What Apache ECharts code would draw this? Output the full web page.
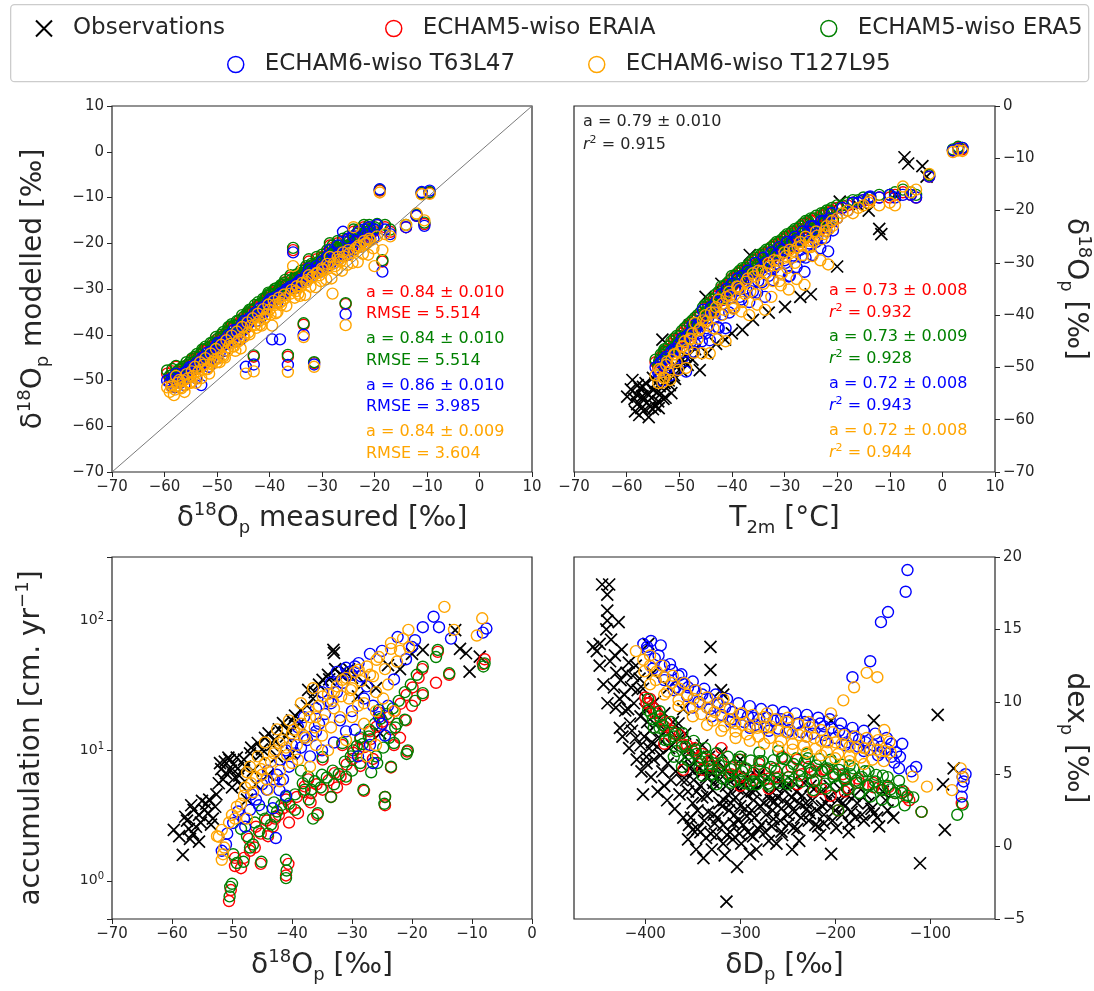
<!DOCTYPE html>
<html>
<head>
<meta charset="utf-8">
<script src="https://cdn.jsdelivr.net/npm/echarts/dist/echarts.min.js"></script>
<style>
html,body{margin:0;padding:0;background:#fff;}
#main{width:1094px;height:991px;}
</style>
</head>
<body>
<div id="main"></div>
<script>
// 4-panel isotope comparison: obs vs ECHAM5/6-wiso runs
var seriesNames = ['Observations', 'ECHAM5-wiso ERAIA', 'ECHAM5-wiso ERA5', 'ECHAM6-wiso T63L47', 'ECHAM6-wiso T127L95'];
var seriesColors = ['#000000', '#ff0000', '#008000', '#0000ff', '#ffa500'];

// panel 1 : measured d18O (shared x) vs modelled d18O per run
var p1Measured = [-59.5,-59.0,-58.5,-58.0,-57.5,-57.0,-56.5,-56.0,-55.5,-55.0,-54.5,-54.0,-53.5,-53.0,-52.0,-51.0,-50.5,-50.0,-49.0,-48.5,-48.0,-47.0,-46.5,-46.0,-45.0,-44.5,-44.0,-43.0,-42.5,-42.0,-41.0,-40.5,-40.0,-39.5,-39.0,-38.0,-37.5,-37.0,-36.5,-35.5,-35.0,-34.0,-33.5,-33.0,-32.0,-31.5,-31.0,-30.0,-29.0,-28.0,-27.5,-27.0,-26.0,-25.5,-25.0,-24.0,-23.0,-22.0,-21.0,-20.0,-19.5,-19.0,-18.5,-18.0,-17.0,-14.0,-12.0,-11.0,-10.5,-9.5,-57.8,-56.2,-54.8,-52.5,-51.5,-49.5,-47.5,-45.5,-43.5,-41.5,-38.5,-36.0,-34.5,-32.5,-30.5,-28.5,-26.5,-23.5,-21.5,
  -58.7,-58.2,-57.2,-56.8,-55.8,-55.2,-54.2,-53.8,-53.2,-52.8,-52.2,-51.8,-51.2,-50.8,-50.2,-49.8,-49.2,-48.8,-48.2,-47.8,-47.2,-46.8,-46.2,-45.8,-45.2,-44.8,-44.2,-43.8,-43.2,-42.8,-42.2,-41.8,-41.2,-40.8,-40.2,-39.8,-39.2,-38.8,-38.2,-37.8,-37.2,-36.8,-35.8,-35.2,-34.8,-34.2,-33.8,-33.2,-32.8,-32.2,-31.8,-31.2,-30.8,-30.2,-29.8,-29.2,-28.8,-28.2,-27.8,-27.2,-26.8,-26.2,-25.8,-25.2,-24.8,-24.2,-23.8,-23.2,-22.8,-22.2,-21.8,-21.2,-20.8,-20.2];
var p1Eraia = [-48.5,-49.5,-48.0,-50.0,-48.5,-49.5,-47.5,-48.5,-47.0,-48.0,-46.5,-47.5,-45.5,-46.5,-45.0,-44.0,-42.5,-43.0,-41.0,-42.0,-40.5,-39.0,-40.0,-38.5,-37.5,-38.5,-36.0,-44.8,-35.5,-34.0,-33.5,-32.0,-31.5,-33.0,-30.5,-30.0,-29.5,-28.5,-44.8,-21.5,-27.5,-26.5,-37.8,-25.5,-25.0,-46.2,-23.5,-23.0,-22.0,-21.0,-21.5,-20.0,-19.5,-33.3,-19.0,-17.5,-17.5,-16.5,-16.5,-17.0,-16.0,-8.5,-24.0,-16.5,-17.5,-16.5,-14.0,-9.2,-15.8,-9.0,-47.0,-49.8,-45.5,-43.5,-45.5,-42.5,-38.5,-39.5,-35.0,-35.0,-31.5,-27.5,-28.0,-24.0,-24.5,-20.5,-21.0,-18.5,-17.5,
  -49.5,-49.5,-48.4,-48.0,-46.7,-46.7,-45.2,-45.0,-44.8,-43.9,-43.2,-43.3,-42.6,-42.2,-41.2,-41.4,-40.4,-40.2,-40.0,-39.0,-38.3,-38.4,-37.8,-37.4,-36.4,-36.6,-35.5,-35.3,-35.2,-34.2,-33.5,-33.6,-32.9,-32.5,-31.5,-31.8,-30.8,-30.7,-30.7,-29.8,-29.3,-29.5,-28.7,-28.2,-27.5,-27.7,-26.9,-26.7,-26.8,-25.8,-25.4,-25.4,-25.0,-24.6,-23.9,-24.1,-23.3,-23.1,-23.2,-22.1,-21.7,-21.8,-21.4,-21.0,-20.3,-20.5,-19.7,-19.5,-19.6,-18.6,-18.2,-18.3,-17.9,-17.4];
var p1Era5 = [-47.8,-49.0,-47.5,-49.5,-48.0,-49.0,-47.0,-48.0,-46.5,-47.5,-46.0,-47.0,-45.0,-46.0,-44.5,-43.5,-42.0,-42.5,-40.5,-41.5,-40.0,-38.5,-39.5,-38.0,-37.0,-38.0,-35.5,-44.5,-35.0,-33.5,-33.0,-31.5,-31.0,-32.5,-30.0,-29.5,-29.0,-28.0,-44.4,-21.0,-27.0,-26.0,-37.5,-25.0,-24.5,-46.0,-23.0,-22.5,-21.5,-20.5,-21.0,-19.5,-19.0,-33.1,-18.5,-17.0,-17.0,-16.0,-16.0,-16.5,-15.8,-8.3,-23.7,-16.0,-17.0,-16.0,-13.8,-9.0,-15.5,-8.8,-46.8,-49.5,-45.2,-43.2,-45.0,-42.0,-38.2,-39.0,-34.5,-34.5,-31.0,-27.0,-27.5,-23.5,-24.0,-20.0,-20.5,-18.0,-17.0,
  -48.9,-49.1,-47.6,-47.5,-46.0,-46.1,-44.8,-44.2,-44.3,-43.2,-42.6,-42.9,-41.8,-41.7,-40.5,-40.8,-40.0,-39.4,-39.5,-38.3,-37.7,-38.0,-37.0,-36.9,-35.7,-36.0,-35.1,-34.5,-34.7,-33.5,-32.9,-33.2,-32.1,-32.0,-30.8,-31.2,-30.4,-29.9,-30.2,-29.1,-28.7,-29.1,-27.9,-27.7,-26.8,-27.1,-26.5,-25.9,-26.3,-25.1,-24.8,-25.0,-24.2,-24.1,-23.2,-23.5,-22.9,-22.3,-22.7,-21.4,-21.1,-21.4,-20.6,-20.5,-19.6,-19.9,-19.3,-18.7,-19.1,-17.9,-17.6,-17.9,-17.1,-16.9];
var p1T63 = [-50.0,-50.5,-49.5,-51.5,-50.0,-50.5,-48.5,-49.5,-48.0,-49.0,-47.5,-49.5,-46.5,-51.0,-46.0,-45.0,-44.0,-45.0,-42.5,-43.5,-42.0,-41.0,-41.5,-40.0,-39.0,-47.0,-37.5,-46.5,-37.0,-35.5,-35.0,-34.0,-33.0,-41.0,-32.5,-41.0,-31.0,-30.5,-46.6,-22.0,-29.0,-28.0,-40.0,-27.0,-26.0,-46.5,-25.0,-24.0,-23.0,-22.0,-23.0,-20.5,-17.5,-35.5,-19.0,-18.5,-17.5,-17.0,-16.5,-17.0,-16.0,-8.2,-26.2,-17.0,-18.0,-16.5,-14.0,-8.8,-16.2,-8.5,-48.5,-51.0,-47.0,-45.0,-47.0,-44.0,-40.5,-41.0,-36.5,-36.0,-33.0,-29.5,-29.0,-25.5,-25.5,-21.5,-22.0,-19.5,-18.0,
  -51.3,-50.1,-49.5,-49.6,-48.0,-47.1,-46.8,-46.1,-46.0,-45.0,-45.0,-43.9,-43.7,-43.8,-42.5,-41.8,-42.0,-41.3,-41.2,-40.1,-40.1,-39.0,-38.9,-39.0,-37.7,-37.0,-37.1,-36.4,-36.4,-35.3,-35.3,-34.2,-34.0,-34.1,-32.8,-32.2,-32.4,-31.8,-31.9,-30.9,-31.1,-30.1,-29.8,-29.8,-28.8,-28.1,-28.5,-27.8,-28.0,-26.9,-27.2,-26.0,-26.1,-26.2,-25.2,-24.5,-24.9,-24.2,-24.4,-23.2,-23.5,-22.4,-22.5,-22.6,-21.6,-20.9,-21.3,-20.6,-20.8,-19.7,-20.0,-18.9,-19.0,-19.0];
var p1T127 = [-51.5,-52.5,-51.0,-52.0,-50.5,-51.5,-50.0,-51.0,-49.5,-50.5,-49.0,-50.5,-48.0,-49.5,-47.5,-46.5,-45.5,-46.0,-44.5,-45.0,-43.5,-42.5,-43.5,-41.5,-40.5,-48.5,-39.5,-48.0,-38.5,-37.0,-36.5,-35.5,-34.5,-38.0,-33.5,-33.0,-32.5,-32.0,-48.1,-25.0,-30.5,-29.5,-40.5,-28.5,-27.5,-47.0,-26.5,-25.5,-24.5,-31.0,-25.0,-23.0,-22.0,-37.9,-21.5,-16.5,-20.5,-19.5,-19.0,-25.0,-18.5,-8.9,-21.5,-18.0,-18.5,-16.0,-13.5,-9.3,-15.0,-9.2,-49.0,-52.5,-48.0,-46.5,-48.5,-46.0,-42.0,-43.0,-38.0,-38.0,-35.0,-31.0,-31.0,-27.0,-27.0,-23.0,-24.0,-21.0,-20.0,
  -51.4,-53.2,-49.9,-51.7,-48.6,-50.5,-47.0,-49.6,-46.0,-47.6,-45.1,-47.5,-44.1,-45.9,-43.1,-45.2,-42.2,-44.8,-41.2,-42.7,-40.2,-42.6,-39.3,-41.1,-38.3,-40.4,-37.3,-39.9,-36.4,-37.9,-35.4,-37.8,-34.4,-36.2,-33.4,-35.6,-32.6,-35.3,-31.9,-33.5,-31.2,-33.7,-30.2,-31.9,-29.4,-31.5,-28.7,-31.3,-28.0,-29.5,-27.3,-29.6,-26.5,-28.3,-25.8,-27.9,-25.1,-27.7,-24.4,-25.8,-23.6,-26.0,-22.9,-24.7,-22.2,-24.3,-21.5,-24.1,-20.8,-22.3,-20.1,-22.5,-19.4,-21.1];
var oneToOne = [-70, 10];

// panel 2 : T2m vs d18O
var p2Temp = [-54.5,-54.0,-53.5,-53.0,-52.5,-52.0,-51.5,-51.0,-50.0,-49.5,-49.0,-48.0,-47.5,-47.0,-46.0,-45.5,-45.0,-44.0,-43.0,-42.5,-42.0,-41.0,-40.5,-40.0,-39.0,-38.5,-38.0,-37.0,-36.0,-35.5,-35.0,-34.0,-33.0,-32.5,-32.0,-31.0,-30.0,-29.5,-29.0,-28.0,-27.0,-26.5,-26.0,-25.0,-24.0,-23.0,-22.0,-21.0,-20.0,-19.0,-18.0,-17.0,-16.0,-15.0,-14.0,-13.7,-12.0,-10.0,-9.0,-7.5,-6.0,-5.0,-2.5,2.0,3.0,3.8,-52.8,-50.5,-48.5,-46.5,-44.5,-43.5,-41.5,-39.5,-37.5,-36.5,-34.5,-33.5,-31.5,-30.5,-28.5,-27.5,-25.5,-24.5,-22.5,-21.5,
  -53.8,-53.2,-52.3,-51.7,-50.8,-50.2,-49.3,-48.7,-47.8,-47.2,-46.3,-45.7,-44.8,-44.2,-43.3,-42.7,-41.8,-41.2,-40.3,-39.7,-38.8,-38.2,-37.3,-36.7,-35.8,-35.2,-34.3,-33.7,-32.8,-32.2,-31.3,-30.7,-29.8,-29.2,-28.3,-27.7,-26.8,-26.2,-25.3,-24.7,-23.8,-23.2,-22.3,-21.7,-20.8];
var p2Eraia = [-49.0,-50.0,-48.0,-47.5,-47.0,-46.5,-45.5,-45.0,-44.5,-43.5,-43.0,-42.0,-41.5,-41.0,-40.0,-39.0,-38.5,-37.5,-36.5,-36.0,-35.0,-34.5,-34.0,-33.0,-32.5,-32.0,-31.5,-31.0,-30.0,-29.5,-29.0,-28.5,-28.0,-27.0,-27.0,-26.5,-25.5,-25.0,-25.0,-24.0,-23.5,-23.0,-22.5,-22.0,-21.5,-21.0,-20.5,-20.0,-19.5,-19.5,-19.0,-18.5,-18.5,-18.0,-18.0,-18.0,-17.5,-17.5,-17.0,-16.5,-17.0,-17.5,-13.5,-8.5,-8.0,-8.3,-47.0,-44.5,-42.5,-40.5,-38.5,-37.5,-35.0,-33.0,-31.5,-30.5,-29.0,-28.0,-26.5,-26.0,-24.5,-24.0,-22.5,-22.0,-21.0,-20.5,
  -49.1,-49.0,-47.6,-47.3,-46.5,-45.7,-45.3,-44.5,-43.8,-42.7,-41.8,-41.4,-39.9,-39.5,-38.6,-37.5,-37.1,-36.2,-35.4,-34.2,-33.5,-33.4,-32.3,-32.2,-31.7,-30.9,-30.9,-30.2,-29.8,-28.9,-28.5,-28.4,-27.4,-27.3,-26.8,-26.0,-26.0,-25.4,-25.0,-24.1,-23.7,-23.6,-22.6,-22.5,-22.0];
var p2Era5 = [-48.5,-49.5,-47.5,-47.0,-46.5,-46.0,-45.0,-44.5,-44.0,-43.0,-42.5,-41.5,-41.0,-40.5,-39.5,-38.5,-38.0,-37.0,-36.0,-35.5,-34.5,-34.0,-33.5,-32.5,-32.0,-31.5,-31.0,-30.5,-29.5,-29.0,-28.5,-28.0,-27.5,-27.0,-26.5,-26.0,-25.0,-24.5,-24.5,-23.5,-23.0,-22.5,-22.0,-21.5,-21.0,-20.5,-20.0,-19.5,-19.0,-19.0,-18.5,-18.0,-18.0,-17.5,-17.5,-17.5,-17.0,-17.0,-16.5,-16.0,-16.5,-17.0,-13.2,-8.3,-7.8,-8.0,-46.5,-44.0,-42.0,-40.0,-38.0,-37.0,-34.5,-32.5,-31.0,-30.0,-28.5,-27.5,-26.0,-25.5,-24.0,-23.5,-22.0,-21.5,-20.5,-20.0,
  -48.7,-48.6,-47.1,-47.0,-46.1,-45.2,-45.0,-44.0,-43.4,-42.3,-41.3,-41.1,-39.4,-39.2,-38.1,-37.1,-36.8,-35.7,-35.0,-33.9,-33.0,-33.1,-31.8,-31.9,-31.2,-30.5,-30.6,-29.7,-29.4,-28.6,-28.0,-28.1,-26.9,-27.0,-26.3,-25.6,-25.7,-24.9,-24.6,-23.8,-23.2,-23.3,-22.1,-22.2,-21.5];
var p2T63 = [-50.0,-51.0,-49.0,-48.5,-48.0,-50.0,-47.0,-46.5,-45.5,-44.5,-47.0,-43.5,-42.0,-45.5,-41.0,-39.0,-43.5,-38.5,-37.5,-42.5,-36.0,-35.0,-39.5,-34.0,-33.0,-36.5,-32.5,-31.5,-35.5,-30.0,-33.5,-29.0,-32.5,-28.0,-31.0,-27.0,-29.5,-26.0,-32.5,-25.0,-27.5,-24.0,-29.0,-23.0,-26.0,-22.0,-24.0,-20.5,-21.5,-19.5,-20.0,-18.5,-18.5,-18.0,-17.5,-17.3,-17.5,-17.0,-17.5,-17.0,-17.0,-17.5,-13.5,-8.5,-8.2,-8.0,-49.5,-46.5,-44.0,-42.0,-40.5,-39.5,-37.0,-35.0,-33.5,-32.0,-31.0,-30.0,-28.5,-27.5,-26.0,-25.5,-24.0,-23.0,-22.0,-21.5,
  -50.9,-52.5,-50.2,-51.5,-48.4,-50.4,-48.1,-50.8,-45.1,-47.0,-43.5,-45.0,-42.5,-44.8,-40.4,-42.3,-39.9,-42.5,-36.7,-38.6,-35.2,-37.0,-34.9,-37.5,-33.5,-35.7,-33.7,-36.5,-31.1,-33.3,-30.2,-32.0,-30.0,-32.6,-28.6,-30.8,-28.8,-31.7,-26.3,-28.5,-25.4,-27.2,-25.2,-27.8,-23.8];
var p2T127 = [-51.5,-53.0,-50.5,-52.0,-49.5,-51.0,-48.5,-47.5,-47.0,-46.0,-45.0,-44.5,-43.5,-41.5,-42.5,-41.0,-40.0,-39.5,-38.5,-37.0,-40.0,-36.5,-35.5,-38.0,-34.5,-35.0,-37.5,-33.0,-32.0,-36.0,-31.5,-34.0,-30.0,-36.5,-29.5,-33.5,-28.0,-31.0,-27.5,-30.0,-26.0,-28.5,-25.0,-27.0,-24.0,-25.5,-23.0,-22.0,-21.5,-20.5,-20.0,-20.5,-19.5,-19.0,-18.5,-18.0,-19.0,-18.5,-19.0,-15.4,-16.5,-16.0,-13.0,-8.8,-8.5,-8.6,-52.0,-49.0,-46.5,-44.5,-42.0,-42.5,-39.0,-38.5,-36.0,-35.5,-33.5,-32.0,-30.5,-32.0,-29.0,-27.0,-27.0,-26.0,-24.5,-23.5,
  -50.3,-52.9,-48.9,-52.4,-47.5,-50.5,-46.0,-50.1,-44.6,-47.2,-42.9,-47.3,-41.2,-47.3,-39.5,-44.6,-37.8,-45.0,-36.2,-38.8,-34.6,-39.3,-33.6,-40.0,-32.6,-38.0,-31.6,-39.0,-30.6,-33.5,-29.6,-34.3,-28.7,-35.1,-27.7,-33.1,-26.7,-34.2,-25.8,-28.7,-24.8,-29.5,-23.9,-30.3,-22.9];
var p2Obs = [[-59.9,-55.6],[-57.6,-59.1],[-56.2,-56.8],[-54.9,-54.3],[-52.8,-53.0],[-51.5,-54.9],[-58.9,-52.4],[-56.9,-53.7],[-55.0,-58.0],[-56.0,-55.0],[-54.0,-56.5],[-53.0,-51.0],[-52.0,-52.5],[-50.5,-50.0],[-49.0,-49.0],[-47.0,-46.5],[-58.0,-57.0],[-57.0,-55.5],[-55.5,-57.5],[-54.5,-53.0],[-53.5,-55.0],[-56.5,-58.0],[-55.0,-52.0],[-53.0,-56.0],[-51.0,-51.5],[-57.5,-54.0],[-58.5,-56.0],[-53.2,-44.7],[-45.0,-36.5],[-42.0,-34.0],[-36.6,-28.5],[-19.5,-18.3],[-20.0,-30.7],[-11.6,-24.5],[-12.0,-23.5],[-7.2,-9.8],[-6.5,-11.0],[-3.8,-11.5],[-3.0,-13.5],[-25.0,-36.0],[-29.9,-38.4],[-36.0,-40.9],[-38.0,-42.8],[-41.3,-44.7],[-44.7,-47.3],[-46.1,-50.5],[-48.8,-47.9],[-33.0,-39.5],[-27.0,-36.5],[-40.0,-43.5],[-43.0,-45.5],[-50.0,-48.5],[-47.5,-48.5],[-48.0,-42.0],[-44.0,-39.0],[-38.0,-33.0],[-34.0,-30.0],[-30.0,-27.0],[-26.0,-24.0],[-22.0,-22.0],[-16.0,-19.0],[-14.0,-20.0],[-9.0,-17.0],
  [-59.2,-54.2],[-58.4,-58.4],[-57.2,-57.8],[-56.7,-56.2],[-55.8,-59.5],[-55.3,-55.8],[-54.6,-57.4],[-54.2,-54.8],[-53.7,-53.6],[-52.6,-55.8],[-52.4,-51.5],[-51.8,-53.4],[-50.8,-52.2],[-49.6,-50.6],[-48.4,-49.5],[-56.4,-53.0],[-58.1,-55.2],[-57.9,-53.4],[-53.9,-57.8],[-52.2,-50.2]];

// panel 3 : d18O vs accumulation [d18O, acc]
var p3Obs = [[-59.7,2.46],[-58.2,1.58],[-57.5,2.9],[-57.0,2.1],[-56.4,3.5],[-56.0,2.6],[-55.5,3.2],[-55.0,4.1],[-54.3,3.9],[-54.0,3.3],[-53.5,2.7],[-52.8,3.7],[-56.5,2.3],[-55.5,2.0],[-52.2,5.6],[-51.8,7.2],[-51.0,6.7],[-50.6,8.8],[-50.4,8.45],[-49.8,7.8],[-49.5,6.2],[-49.0,7.3],[-48.5,5.4],[-48.0,8.5],[-50.0,5.2],[-52.0,8.0],[-47.0,9.5],[-46.5,7.0],[-45.7,11.4],[-45.0,10.2],[-43.9,13.5],[-43.0,12.0],[-42.5,9.0],[-41.5,16.2],[-40.5,14.0],[-39.5,18.5],[-38.5,20.4],[-37.3,29.1],[-36.5,25.0],[-34.9,34.7],[-34.0,38.0],[-33.1,58.9],[-33.0,56.0],[-32.0,38.5],[-31.0,40.0],[-30.0,36.0],[-29.0,26.0],[-28.0,33.0],[-25.3,13.5],[-26.0,30.0],[-24.0,45.0],[-22.0,42.0],[-20.0,55.0],[-18.2,58.9],[-12.8,83.7],[-11.0,55.6],[-10.4,40.2],[-8.7,52.4],[-12.0,60.0],[-40.0,9.5],[-44.0,6.5],[-47.5,4.2],[-46.0,5.5],
  [-58.8,2.2],[-57.8,3.1],[-57.2,2.5],[-56.8,3.8],[-55.2,2.8],[-54.6,3.5],[-53.8,4.2],[-53.2,3.0],[-52.6,4.6],[-51.5,6.0],[-51.2,8.2],[-50.2,7.0],[-49.2,8.8],[-48.8,6.4],[-47.8,7.5],[-46.8,10.5],[-45.3,9.2],[-44.5,12.5],[-43.3,11.0],[-42.2,14.5],[-41.0,12.8],[-40.0,17.0],[-38.8,16.0],[-37.5,22.0],[-36.2,28.0],[-35.5,32.0],[-33.8,35.0],[-32.8,42.0],[-31.5,37.0],[-30.5,42.0]];
var p3Eraia = [[-50.5,0.7],[-50.2,0.85],[-49.5,1.3],[-48.5,1.25],[-48.0,1.5],[-47.0,1.7],[-45.2,1.35],[-41.0,1.1],[-40.6,1.35],[-46.0,2.6],[-42.8,3.0],[-40.5,2.8],[-41.0,4.2],[-38.0,4.8],[-35.8,3.2],[-33.5,4.4],[-31.0,6.0],[-28.6,7.6],[-28.0,4.9],[-24.5,4.4],[-24.5,3.8],[-23.5,7.4],[-20.8,9.8],[-23.0,11.0],[-21.0,17.0],[-23.5,14.5],[-18.2,26.5],[-18.3,42.0],[-15.7,57.0],[-13.8,38.0],[-7.9,50.0],[-8.2,46.0],[-25.5,19.5],[-27.0,14.0],[-28.6,12.2],[-31.6,11.0],[-29.8,9.6],[-34.9,8.5],[-37.3,6.0],[-36.8,4.7],[-44.0,2.2],[-39.0,3.3],[-32.5,5.2],[-26.5,8.6],[-22.0,12.5],[-20.0,22.0],[-16.0,33.0],
  [-49.5,1.5],[-47.2,2.1],[-46.2,1.8],[-45.2,2.3],[-44.2,2.9],[-43.2,2.6],[-42.2,3.2],[-41.5,3.6],[-40.2,3.7],[-39.2,4.4],[-37.9,5.3],[-36.9,4.0],[-35.9,5.5],[-34.9,5.0],[-33.9,5.9],[-32.9,6.7],[-31.9,6.3],[-30.9,7.8],[-29.9,8.6],[-28.9,10.3],[-27.9,10.6],[-26.9,12.2],[-25.9,15.2],[-24.9,16.6],[-23.9,18.0],[-22.9,20.0],[-21.9,22.8],[-20.9,26.6],[-19.9,30.4],[-18.9,36.1]];
var p3Era5 = [[-50.4,0.76],[-50.3,0.9],[-50.0,0.95],[-49.2,1.37],[-48.1,1.4],[-47.0,1.8],[-45.1,1.4],[-40.9,1.2],[-41.0,1.05],[-41.0,1.45],[-46.2,2.8],[-48.5,2.5],[-42.8,3.1],[-41.0,4.4],[-37.9,5.0],[-35.7,3.3],[-36.5,3.0],[-33.5,4.4],[-31.0,6.3],[-28.6,8.0],[-28.1,5.0],[-24.5,4.4],[-24.6,3.9],[-23.5,7.5],[-20.7,10.0],[-20.9,9.4],[-23.0,11.4],[-21.2,17.2],[-18.2,27.5],[-18.2,43.8],[-15.7,58.9],[-16.0,52.0],[-13.8,39.0],[-7.9,46.5],[-8.1,44.0],[-25.5,20.4],[-27.1,14.4],[-28.6,12.6],[-31.6,11.4],[-29.8,10.0],[-34.9,8.9],[-37.3,6.3],[-36.8,5.0],[-44.0,2.3],[-39.5,3.5],[-33.0,5.5],[-30.0,7.0],[-26.0,9.0],[-22.5,16.0],[-19.5,24.0],[-45.0,3.5],[-43.0,4.0],[-38.5,7.0],[-35.0,6.5],
  [-49.8,1.6],[-47.5,2.2],[-46.5,1.9],[-45.5,2.4],[-44.5,3.0],[-43.5,2.7],[-42.5,3.4],[-41.8,3.8],[-40.5,3.9],[-39.5,4.6],[-38.2,5.6],[-37.2,4.2],[-36.2,5.8],[-35.2,5.2],[-34.2,6.2],[-33.2,7.0],[-32.2,6.6],[-31.2,8.2],[-30.2,9.0],[-29.2,10.8],[-28.2,11.2],[-27.2,12.8],[-26.2,16.0],[-25.2,17.5],[-24.2,19.0],[-23.2,21.0],[-22.2,24.0],[-21.2,28.0],[-20.2,32.0],[-19.2,38.0],[-26.8,6.8],[-25.8,8.0],[-24.8,10.5],[-23.8,12.5],[-22.8,15.0]];
var p3T63 = [[-16.4,106],[-18.2,88],[-15.5,88],[-7.6,86],[-8.2,80],[-13.5,72],[-22.4,74],[-20.0,62],[-25.0,58],[-27.0,55],[-28.9,46.7],[-31.0,43],[-32.5,40],[-30.0,38],[-33.5,33],[-35.0,28],[-34.0,24],[-36.0,21],[-38.0,18],[-39.0,15],[-29.5,14.4],[-26.5,8.0],[-25.0,16],[-24.0,22],[-28.0,25],[-30.0,20],[-32.0,17],[-42.1,4.97],[-41.0,4.5],[-42.7,2.13],[-49.8,2.78],[-51.7,1.7],[-51.0,1.9],[-48.0,3.0],[-46.0,4.2],[-47.0,3.5],[-45.0,5.5],[-44.0,7.0],[-42.0,8.5],[-40.0,11],[-41.0,10],[-38.0,12.5],[-36.0,14],[-43.0,6.0],[-37.0,9.0],[-35.0,10],
  [-50.8,2.3],[-49.0,3.4],[-47.8,2.6],[-46.8,4.6],[-45.5,3.8],[-44.2,5.0],[-43.2,3.6],[-42.5,6.5],[-41.5,6.0],[-40.5,7.5],[-39.5,9.5],[-38.5,10.5],[-37.5,12],[-36.5,13],[-35.5,16],[-34.5,19],[-33.5,23],[-32.5,28],[-31.5,33],[-30.5,40],[-29.5,44],[-28.5,37],[-27.5,31],[-26.5,22],[-25.5,18],[-24.5,13],[-27.0,11],[-29.0,9],[-31.0,14],[-33.0,11.5],[-23.0,35],[-21.0,50],[-19.5,70]];
var p3T127 = [[-14.6,126],[-8.3,103],[-9.2,76],[-20.6,84],[-13.0,84],[-23.5,66.6],[-22.0,58],[-25.9,49.5],[-28.9,41.5],[-27.0,38],[-31.6,34.7],[-30.0,30],[-34.9,25.9],[-33.0,28],[-37.3,20.4],[-36.0,18],[-39.7,14.4],[-38.0,13],[-42.1,11.4],[-41.0,10.5],[-44.5,8.0],[-43.0,9.5],[-45.7,9.0],[-46.8,5.6],[-45.0,6.5],[-49.2,3.7],[-48.0,4.5],[-51.7,2.46],[-52.2,2.18],[-52.5,2.2],[-51.7,1.45],[-51.5,1.6],[-51.3,1.8],[-50.0,3.2],[-47.5,3.0],[-44.0,5.0],[-40.0,8.0],[-35.0,13],[-32.0,18],[-29.0,22],[-26.0,28],[-24.0,32],[-31.0,12],[-34.0,10],[-37.0,7.5],[-28.0,16],[-33.0,21],[-30.5,25],[-36.5,30],[-38.5,23],[-40.5,17],[-42.5,14.5],[-47.0,7.5],[-26.0,11],[-23.0,20],[-27.5,9],
  [-50.5,2.8],[-49.5,3.0],[-48.5,3.9],[-47.8,5.2],[-46.5,4.8],[-46.0,6.2],[-45.2,7.2],[-44.2,6.0],[-43.5,8.2],[-42.8,10],[-42.0,7.0],[-41.5,12],[-40.8,9.2],[-40.0,13.5],[-39.2,11],[-38.5,16],[-37.8,12.5],[-37.0,18],[-36.2,15],[-35.5,22],[-34.8,17],[-34.0,27],[-33.2,24],[-32.5,31],[-31.8,26],[-31.0,36],[-30.2,29],[-29.5,40],[-28.5,34],[-27.5,44],[-26.5,37],[-25.5,52],[-24.5,42],[-23.5,60],[-22.5,48],[-21.5,72],[-20.5,62],[-33.5,15],[-36.0,11],[-39.0,8.5],[-42.0,5.8],[-30.0,18],[-28.0,23],[-26.0,20],[-24.8,25],[-44.5,11.5],[-47.5,6.8]];

// panel 4 : dD vs d-excess [dD, dex]
var p4Obs = [[-445.4,18.1],[-438,18.1],[-440,17.4],[-440,16.3],[-440,15.6],[-441,15.0],[-451,13.5],[-436,14.3],[-424.8,13.6],[-417.3,12.7],[-430.5,12.0],[-439.8,9.9],[-421.1,9.4],[-426.7,8.2],[-402.4,10.9],[-398.7,6.2],[-398.7,5.75],[-402.4,3.6],[-396.8,14.0],[-331.4,13.8],[-331.4,12.2],[-320.3,10.8],[-318,10.5],[-387.5,6.9],[-376.3,5.75],[-361.4,4.6],[-350.1,3.0],[-350.1,1.15],[-346.4,-0.2],[-338.8,-0.8],[-316.4,-0.6],[-303.4,-1.4],[-314.6,-3.8],[-286.6,0.7],[-256.7,1.03],[-245.5,-0.2],[-204.4,-0.5],[-185.7,1.6],[-159.5,2.3],[-153.9,1.4],[-110.9,-1.15],[-92.3,9.1],[-84.8,1.15],[-75.5,5.4],[-86.7,4.3],[-204.4,8.7],[-159.5,8.7],[-226.7,2.3],[-211.9,1.6],[-410,12.5],[-415,11],[-405,9],[-395,8],[-390,10],[-385,7.5],[-380,9.2],[-372,7],[-368,5.2],[-365,8.5],[-358,6.2],[-355,3.8],[-352,5.5],[-345,2.5],[-342,4.2],[-338,1.8],[-335,3.5],[-330,5],[-328,2.2],[-325,0.8],[-322,3],[-318,1.5],[-315,4.2],[-312,2.5],[-308,0.5],[-305,3.4],[-302,1.8],[-298,4.5],[-295,2.6],[-292,1],[-288,3.8],[-285,2],[-280,5],[-278,1.5],[-275,3],[-270,0.4],[-266,2.5],[-262,4],[-258,1.8],[-255,3.2],[-250,2.2],[-245,4.5],[-240,1.2],[-235,3.5],[-230,2.6],[-222,4],[-218,1.4],[-210,3],[-200,2.5],[-195,4],[-190,2.8],[-180,3.5],[-172,2.2],[-165,3],[-150,3.8],[-145,2.5],[-300,6],[-320,6.5],[-340,7],[-360,9.5],[-375,11],[-392,12],[-428,15.5],[-448,14],[-433,11],[-410,7.5],[-416,8.5],[-355,0.5],[-330,-0.2],[-290,-0.5],
  [-455,13.8],[-448,12.5],[-444,11.2],[-437,12.8],[-432,13.2],[-426,11.5],[-422,10.5],[-418,9.5],[-431,9.6],[-427,10.2],[-420,12.0],[-413,11.8],[-408,10.8],[-412,9.9],[-406,11.6],[-400,9.5],[-398,8.6],[-393,7.2],[-389,8.4],[-384,6.3],[-379,8.0],[-375,6.8],[-371,8.6],[-366,7.5],[-362,5.6],[-358,7.8],[-353,6.8],[-349,4.6],[-347,6.0],[-343,5.4],[-340,3.4],[-336,4.8],[-333,6.2],[-329,3.9],[-326,5.6],[-322,4.6],[-319,2.8],[-316,5.4],[-313,3.6],[-309,4.8],[-306,2.2],[-303,4.0],[-300,2.8],[-297,1.5],[-294,3.6],[-291,4.8],[-288,2.5],[-284,3.9],[-281,1.2],[-277,4.3],[-273,2.2],[-270,3.6],[-267,1.4],[-264,3.1],[-260,4.6],[-257,2.6],[-253,3.9],[-249,1.6],[-246,3.4],[-243,2.4],[-238,3.0],[-233,4.4],[-228,1.8],[-224,3.2],[-220,2.5],[-215,3.8],[-212,2.2],[-207,3.4],[-203,1.8],[-198,3.2],[-193,2.2],[-188,3.6],[-183,2.4],[-177,3.0],[-170,1.8],[-162,2.6],[-147,3.2],[-139,2.0],[-352,2.0],[-345,1.2],[-336,0.6],[-327,1.6],[-318,0.2],[-311,1.0],[-299,0.2],[-283,-0.2],[-262,0.2],[-238,0.4],[-216,0.8],[-405,7.0],[-396,6.8],[-380,4.2],
  [-424,7.6],[-417,6.8],[-414,8.0],[-409,6.0],[-404,5.2],[-401,7.6],[-394,4.8],[-391,6.0],[-387,3.8],[-382,5.2],[-377,3.2],[-373,4.6],[-369,2.6],[-364,3.6],[-360,2.0],[-357,4.6],[-354,1.5],[-350,5.2],[-346,3.8],[-342,1.0],[-339,5.2],[-334,2.4],[-331,0.9],[-328,4.4],[-324,2.0],[-321,5.0],[-317,3.2],[-314,0.8],[-310,3.0],[-307,1.6],[-304,4.8],[-301,0.9],[-296,4.2],[-293,2.1],[-289,0.8],[-286,3.2],[-282,4.8],[-279,2.8],[-274,1.0],[-271,4.8],[-268,3.2],[-265,1.9],[-261,3.4],[-256,0.8],[-252,4.2],[-248,2.9],[-244,1.3],[-241,3.8],[-236,2.0],[-231,3.0],[-226,4.2],[-221,1.5],[-214,2.8],[-206,4.2],[-199,1.3],[-192,3.0],[-186,1.0],[-179,2.0],[-168,3.6],[-156,2.0]];
var p4Eraia = [[-398.7,9.9],[-395,10.2],[-390,9.2],[-379.9,8.3],[-370,7.8],[-361.4,7.1],[-350,6.6],[-340,6.1],[-330,5.6],[-324,5.3],[-310,5.0],[-300,4.8],[-286.6,4.6],[-270,4.7],[-260,4.8],[-249.2,4.8],[-235,5.0],[-222,5.2],[-211.9,5.3],[-200,5.0],[-190,4.7],[-174.5,4.4],[-160,4.1],[-150,3.9],[-137.2,3.7],[-125,3.4],[-122.2,3.2],[-109.3,2.4],[-197,2.5],[-223,3.8],[-360,5.3],[-340,5.3],[-300,6.0],[-280,5.7],[-256,6.2],[-240,6.0],[-215,4.0],[-205,3.5],[-186,4.0],[-380,7.1],[-320,6.8],[-67,3.0],
  [-400,10.3],[-396,9.9],[-392,9.6],[-388,9.3],[-384,8.8],[-378,8.6],[-372,8.0],[-364,7.7],[-356,7.0],[-348,6.8],[-340,6.4],[-330,6.0],[-320,5.8],[-310,5.5],[-296,5.4],[-280,5.3],[-264,5.4],[-246,5.5],[-228,5.5],[-210,5.3],[-192,5.0],[-176,4.7],[-160,4.4],[-144,4.1],[-128,3.8],[-300,4.2],[-270,4.0],[-240,4.3],[-220,4.6],[-190,3.8]];
var p4Era5 = [[-397,9.4],[-392,8.8],[-385,9.0],[-379.9,8.0],[-375,7.4],[-368,7.8],[-361.4,6.9],[-355,6.4],[-361.4,5.5],[-347,6.7],[-342,5.9],[-336,6.2],[-330,5.4],[-324,5.3],[-318,5.8],[-312,4.9],[-306,5.6],[-300,4.6],[-294,5.4],[-286.6,4.5],[-280,5.9],[-275,4.6],[-268,5.5],[-262,4.7],[-256,6.1],[-249.2,4.8],[-244,5.7],[-238,4.9],[-232,5.9],[-226,5.1],[-220,5.6],[-214,5.2],[-208,5.4],[-202,4.8],[-196,5.3],[-190,4.6],[-184,5.0],[-178,4.4],[-172,4.8],[-165,4.2],[-158,4.5],[-151,3.9],[-145,4.2],[-137.2,3.7],[-130,3.9],[-124,3.5],[-118,3.4],[-109.3,2.4],[-71.7,2.2],[-66,2.9],[-197,2.5],[-223,3.9],[-210,4.0],[-340,4.9],[-325,4.3],[-300,6.2],[-280,6.5],[-260,6.6],[-230,6.4],[-205,6.0],[-185,5.6],[-165,5.2],[-150,4.9],[-310,4.4],[-290,4.3],[-270,4.2],[-250,4.3],[-370,6.2],[-385,8.2],
  [-397,10.2],[-391,8.2],[-385,9.35],[-379,7.35],[-373,8.6],[-367,6.6],[-361,7.85],[-355,5.95],[-349,7.3],[-343,5.45],[-337,6.8],[-331,5.0],[-325,6.45],[-319,4.7],[-313,6.2],[-307,4.5],[-301,6.0],[-295,4.37],[-289,5.95],[-283,4.3],[-277,5.9],[-271,4.35],[-265,5.97],[-259,4.4],[-253,6.03],[-247,4.47],[-241,6.1],[-235,4.5],[-229,6.1],[-223,4.5],[-217,6.05],[-211,4.35],[-205,5.85],[-199,4.2],[-193,5.65],[-187,3.95],[-181,5.4],[-175,3.7],[-169,5.2],[-163,3.45],[-157,4.95],[-151,3.25],[-145,4.8],[-139,3.1],[-133,4.55],[-127,2.85],
  [-394,9.2],[-382,8.4],[-370,7.6],[-358,6.9],[-346,6.4],[-334,5.9],[-322,5.6],[-310,5.35],[-298,5.2],[-286,5.1],[-274,5.1],[-262,5.2],[-250,5.25],[-238,5.3],[-226,5.3],[-214,5.2],[-202,5.0],[-190,4.8],[-178,4.55],[-166,4.3],[-154,4.1],[-142,3.95],[-130,3.7]];
var p4T63 = [[-124.1,19.1],[-126,17.6],[-152,15.5],[-144.6,16.2],[-163.3,12.8],[-182,11.7],[-402,14.0],[-398,13.6],[-394,14.2],[-383.7,13.9],[-390,13],[-380,12.5],[-372,12.2],[-365,11.8],[-361.4,11.3],[-355,11],[-348,10.8],[-340,10.5],[-332,10.2],[-324,9.9],[-316,9.6],[-308,9.3],[-300,9.1],[-292,9.0],[-286.6,8.9],[-280,8.8],[-272,8.9],[-265,8.7],[-257,8.8],[-249.2,8.7],[-240,8.5],[-232,8.6],[-224,8.4],[-216,8.5],[-211.9,8.3],[-204,8.2],[-196,8],[-190,7.8],[-182,7.6],[-175,7.4],[-168,7.2],[-160,7],[-152,6.9],[-145,6.7],[-141,7.1],[-136,6.5],[-129.6,7.1],[-132,6.2],[-138,5.8],[-133,5.4],[-141,6.2],[-380,11.5],[-370,10.8],[-350,9.6],[-330,9.0],[-310,8.6],[-290,8.2],[-270,8.0],[-250,7.9],[-230,7.6],[-210,7.3],[-190,7],[-170,6.6],[-155,6.3],[-66.1,4.83],[-66.5,4.14],[-67,3.45],[-63,5],[-65,4.5],[-115,5.5],[-120,5.2],
  [-398,13.8],[-392,12.3],[-386,13.2],[-380,11.7],[-374,12.6],[-368,11.0],[-362,11.9],[-356,10.4],[-350,11.4],[-344,10.0],[-338,10.9],[-332,9.5],[-326,10.5],[-320,9.1],[-314,10.2],[-308,8.8],[-302,9.9],[-296,8.6],[-290,9.7],[-284,8.4],[-278,9.5],[-272,8.25],[-266,9.4],[-260,8.15],[-254,9.3],[-248,8.05],[-242,9.2],[-236,7.9],[-230,9.1],[-224,7.8],[-218,8.9],[-212,7.7],[-206,8.8],[-200,7.5],[-194,8.5],[-188,7.2],[-182,8.2],[-176,6.9],[-170,8.0],[-164,6.7],[-158,7.8],[-152,6.5],[-146,7.5]];
var p4T127 = [[-167,12.0],[-155.8,11.7],[-180.3,11.0],[-191.6,10.1],[-204.6,9.2],[-148.5,8.05],[-118.7,4.83],[-103.6,4.14],[-68.1,5.4],[-77.3,3.9],[-66,4.8],[-409.9,13.5],[-402,12.9],[-395,12.5],[-388,12.1],[-379.9,11.7],[-372,11.3],[-364,10.9],[-356,10.5],[-349,10.2],[-342.6,9.9],[-335,9.6],[-327,9.3],[-320,9.0],[-312,8.8],[-305.2,8.5],[-298,8.4],[-290,8.3],[-282,8.2],[-275,8.3],[-267.9,8.3],[-260,8.0],[-252,7.9],[-245,7.8],[-238,7.7],[-230.5,7.6],[-222,7.5],[-215,7.3],[-208,7.2],[-200,7.2],[-193.2,7.1],[-185,6.9],[-178,6.8],[-170,6.8],[-163,6.7],[-155.8,6.7],[-148,6.6],[-142,6.5],[-395,11.2],[-380,10.5],[-365,9.7],[-350,9.0],[-335,8.4],[-320,8.0],[-305,7.5],[-290,7.3],[-275,7.1],[-260,6.9],[-245,6.7],[-230,6.5],[-215,6.3],[-200,6.1],[-185,5.9],[-170,5.7],[-318,10.2],[-298,9.2],[-272,9.2],[-250,8.9],[-228,8.6],
  [-401,12.1],[-395,13.2],[-389,11.5],[-383,12.5],[-377,10.7],[-371,11.8],[-365,10.1],[-359,11.3],[-353,9.6],[-347,10.8],[-341,9.15],[-335,10.3],[-329,8.7],[-323,9.9],[-317,8.3],[-311,9.5],[-305,7.95],[-299,9.2],[-293,7.75],[-287,9.1],[-281,7.6],[-275,8.95],[-269,7.5],[-263,8.8],[-257,7.3],[-251,8.6],[-245,7.1],[-239,8.45],[-233,6.95],[-227,8.25],[-221,6.75],[-215,8.05],[-209,6.55],[-203,7.9],[-197,6.4],[-191,7.7],[-185,6.25],[-179,7.6],[-173,6.15],[-167,7.5],[-161,6.0],[-155,7.35],[-149,5.9],[-143,7.25]];

// fit statistics written in the panels
var p1Slope = ['0.84 ± 0.010', '0.84 ± 0.010', '0.86 ± 0.010', '0.84 ± 0.009'];
var p1Rmse = ['5.514', '5.514', '3.985', '3.604'];
var p2Slope = ['0.73 ± 0.008', '0.73 ± 0.009', '0.72 ± 0.008', '0.72 ± 0.008'];
var p2R2 = ['0.932', '0.928', '0.943', '0.944'];
var p2ObsSlope = '0.79 ± 0.010';
var p2ObsR2 = '0.915';

var FONT = 'DejaVu Sans';
var INK = '#262626';
var myChart = echarts.init(document.getElementById('main'));

function pairs(xs, ys) {
  return xs.map(function (x, i) { return [x, ys[i]]; });
}

var xMark = 'path://M0,0L10,10M10,0L0,10';

function scatter(k, gi, data) {
  var isObs = k === 0;
  return {
    name: seriesNames[k],
    type: 'scatter',
    xAxisIndex: gi,
    yAxisIndex: gi,
    data: data,
    symbol: isObs ? xMark : 'circle',
    symbolSize: isObs ? 12 : 11,
    silent: true,
    itemStyle: {
      color: 'transparent',
      borderColor: seriesColors[k],
      borderWidth: isObs ? 1.7 : 1.4,
      opacity: 1
    }
  };
}

var nameRich = {
  n: { fontSize: 28, fontFamily: FONT, color: INK, lineHeight: 36 },
  sup: { fontSize: 18, fontFamily: FONT, color: INK, lineHeight: 18, verticalAlign: 'top' },
  sub: { fontSize: 18, fontFamily: FONT, color: INK, lineHeight: 18, verticalAlign: 'bottom' }
};

function minusFmt(v) {
  return String(v).replace('-', '\u2212');
}

function valAxis(gi, min, max, interval, extra) {
  var ax = {
    type: 'value',
    gridIndex: gi,
    min: min,
    max: max,
    splitLine: { show: false },
    axisLine: { show: false, onZero: false },
    axisTick: { show: true, length: 5, lineStyle: { color: INK, width: 1 } },
    axisLabel: { fontSize: 15, fontFamily: FONT, color: INK, margin: 8, formatter: minusFmt },
    nameLocation: 'middle',
    nameTextStyle: { rich: nameRich }
  };
  if (interval) ax.interval = interval;
  for (var k in extra) ax[k] = extra[k];
  return ax;
}

var d18O = '{n|δ}{sup|18}{n|O}{sub|p}';

var xAxes = [
  valAxis(0, -70, 10, 10, { name: d18O + '{n| measured [‰]}', nameGap: 29 }),
  valAxis(1, -70, 10, 10, { name: '{n|T}{sub|2m}{n| [°C]}', nameGap: 29 }),
  valAxis(2, -70, 0, 10, { name: d18O + '{n| [‰]}', nameGap: 29 }),
  valAxis(3, -475, -32, null, { name: '{n|δD}{sub|p}{n| [‰]}', nameGap: 29 })
];
xAxes[3].axisLabel.showMinLabel = false;
xAxes[3].axisLabel.showMaxLabel = false;

var logAxis = {
  type: 'log',
  logBase: 10,
  gridIndex: 2,
  min: 0.51,
  max: 304,
  position: 'left',
  splitLine: { show: false },
  axisLine: { show: false, onZero: false },
  axisTick: { show: true, length: 5, lineStyle: { color: INK, width: 1 } },
  axisLabel: {
    fontFamily: FONT, color: INK, margin: 8,
    formatter: function (v) {
      var e = Math.round(Math.log10(v));
      if (Math.abs(Math.log10(v) - e) > 1e-6) return '';
      return '{b|10}{s|' + e + '}';
    },
    rich: {
      b: { fontSize: 14, fontFamily: FONT, color: INK, lineHeight: 18 },
      s: { fontSize: 10, fontFamily: FONT, color: INK, lineHeight: 10, verticalAlign: 'top' }
    }
  },
  name: '{n|accumulation [cm. yr}{sup|−1}{n|]}',
  nameLocation: 'middle',
  nameRotate: 90,
  nameGap: 62,
  nameTextStyle: { rich: nameRich }
};

var yAxes = [
  valAxis(0, -70, 10, 10, { position: 'left', name: d18O + '{n| modelled [‰]}', nameRotate: 90, nameGap: 60 }),
  valAxis(1, -70, 0, 10, { position: 'right', name: d18O + '{n| [‰]}', nameRotate: -90, nameGap: 62 }),
  logAxis,
  valAxis(3, -5, 20, 5, { position: 'right', name: '{n|dex}{sub|p}{n| [‰]}', nameRotate: -90, nameGap: 62 })
];

var grids = [
  { left: 112, top: 106, width: 420, height: 366 },
  { left: 574, top: 106, width: 421, height: 366 },
  { left: 112, top: 557, width: 420, height: 362 },
  { left: 574, top: 557, width: 421, height: 362 }
].map(function (g) {
  g.show = true;
  g.borderColor = INK;
  g.borderWidth = 1.2;
  g.backgroundColor = 'transparent';
  return g;
});

var series = [
  scatter(1, 0, pairs(p1Measured, p1Eraia)),
  scatter(2, 0, pairs(p1Measured, p1Era5)),
  scatter(3, 0, pairs(p1Measured, p1T63)),
  scatter(4, 0, pairs(p1Measured, p1T127)),
  {
    name: 'one-to-one', type: 'line', xAxisIndex: 0, yAxisIndex: 0, silent: true,
    data: [[oneToOne[0], oneToOne[0]], [oneToOne[1], oneToOne[1]]],
    symbol: 'none', lineStyle: { color: '#7a7a7a', width: 1 }, z: 3
  },
  scatter(0, 1, p2Obs),
  scatter(1, 1, pairs(p2Temp, p2Eraia)),
  scatter(2, 1, pairs(p2Temp, p2Era5)),
  scatter(3, 1, pairs(p2Temp, p2T63)),
  scatter(4, 1, pairs(p2Temp, p2T127)),
  scatter(0, 2, p3Obs),
  scatter(1, 2, p3Eraia),
  scatter(2, 2, p3Era5),
  scatter(3, 2, p3T63),
  scatter(4, 2, p3T127),
  scatter(0, 3, p4Obs),
  scatter(1, 3, p4Eraia),
  scatter(2, 3, p4Era5),
  scatter(3, 3, p4T63),
  scatter(4, 3, p4T127)
];

// legend: one component per entry so they sit like the matplotlib 3+2 layout
var legendPos = [[43, 27], [393, 27], [828, 27], [235, 63], [596, 63]];
var legends = seriesNames.map(function (nm, k) {
  var isObs = k === 0;
  return {
    data: [{
      name: nm,
      icon: isObs ? 'path://M0,0L10,10M10,0L0,10' : 'circle',
      itemStyle: { color: 'transparent', borderColor: seriesColors[k], borderWidth: isObs ? 2 : 1.5 }
    }],
    left: legendPos[k][0] - 8,
    top: legendPos[k][1] - 10,
    padding: 0,
    itemWidth: 16,
    itemHeight: 16,
    selectedMode: false,
    textStyle: { fontSize: 23, fontFamily: FONT, color: INK, padding: [0, 0, 0, 16] }
  };
});

// legend frame + fit annotations
var gfx = [{
  type: 'rect', left: 10, top: 4, silent: true,
  shape: { width: 1078, height: 77, r: 4 },
  style: { fill: 'transparent', stroke: '#cccccc', lineWidth: 1.3 }
}];
var annRich = {
  i: { fontStyle: 'italic', fontSize: 16, fontFamily: FONT, lineHeight: 20 },
  s: { fontSize: 11, fontFamily: FONT, lineHeight: 11, verticalAlign: 'top' },
  t: { fontSize: 16, fontFamily: FONT, lineHeight: 20 }
};
function ann(x, y, txt, color) {
  gfx.push({
    type: 'text', x: x, y: y, silent: true, z: 10,
    style: { text: txt, fill: color, font: '16px ' + FONT, verticalAlign: 'middle', rich: annRich }
  });
}
var p1Y = [293, 314, 339, 361, 386, 407, 432, 454];
var p2Y = [291, 313, 337, 359, 384, 406, 431, 453];
for (var k = 0; k < 4; k++) {
  var c = seriesColors[k + 1];
  ann(366, p1Y[2 * k], '{t|a = ' + p1Slope[k] + '}', c);
  ann(366, p1Y[2 * k + 1], '{t|RMSE = ' + p1Rmse[k] + '}', c);
  ann(829, p2Y[2 * k], '{t|a = ' + p2Slope[k] + '}', c);
  ann(829, p2Y[2 * k + 1], '{i|r}{s|2}{t| = ' + p2R2[k] + '}', c);
}
ann(583, 122, '{t|a = ' + p2ObsSlope + '}', INK);
ann(583, 145, '{i|r}{s|2}{t| = ' + p2ObsR2 + '}', INK);

var option = {
  animation: false,
  backgroundColor: '#ffffff',
  textStyle: { fontFamily: FONT },
  grid: grids,
  xAxis: xAxes,
  yAxis: yAxes,
  legend: legends,
  series: series,
  graphic: gfx
};
myChart.setOption(option, true);
window.addEventListener('resize', function () { myChart.resize(); });
</script>
</body>
</html>
